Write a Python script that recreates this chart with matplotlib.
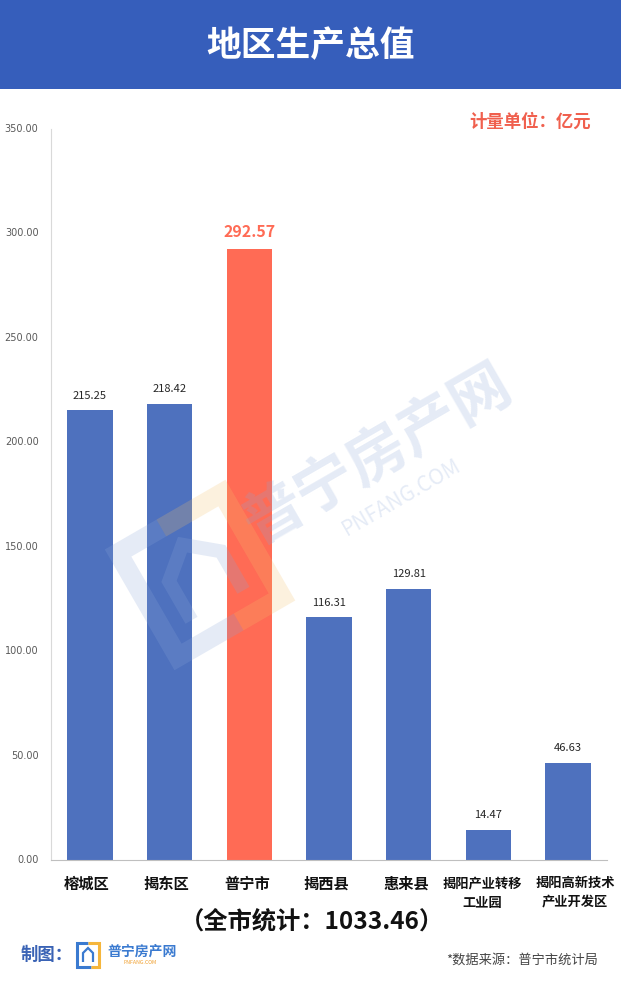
import numpy as np
import matplotlib.pyplot as plt
from matplotlib.patches import Rectangle
from matplotlib.lines import Line2D

plt.rcParams['font.family'] = ['Noto Sans CJK SC', 'DejaVu Sans']

# 数据
regions = ['榕城区', '揭东区', '普宁市', '揭西县', '惠来县', '揭阳产业转移\n工业园', '揭阳高新技术\n产业开发区']
gdp = [215.25, 218.42, 292.57, 116.31, 129.81, 14.47, 46.63]
highlight = '普宁市'
yticks = [0, 50, 100, 150, 200, 250, 300, 350]
total = 1033.46

blue = '#4e71be'
red = '#ff6b55'

W, H = 621, 983
fig = plt.figure(figsize=(W / 100, H / 100), dpi=100)
fig.patch.set_facecolor('white')


def px(x, y):
    # 像素坐标 -> 图形坐标
    return x / W, 1 - y / H


def shape(pts, cx, cy, ang, color, lw, alpha, z=1):
    a = np.deg2rad(ang)
    xs, ys = [], []
    for u, v in pts:
        xr = cx + u * np.cos(a) + v * np.sin(a)
        yr = cy - u * np.sin(a) + v * np.cos(a)
        fx, fy = px(xr, yr)
        xs.append(fx)
        ys.append(fy)
    fig.add_artist(Line2D(xs, ys, color=color, lw=lw, alpha=alpha, zorder=z,
                          solid_capstyle='butt', solid_joinstyle='miter'))


# 顶部标题栏
fig.patches.append(Rectangle((0, 1 - 89 / H), 1, 89 / H, transform=fig.transFigure,
                             facecolor='#365ebb', edgecolor='none', zorder=0))
fig.text(0.5, 1 - 46 / H, '地区生产总值', color='white', fontsize=25, fontweight='bold',
         ha='center', va='center')

# 水印
wm = '#8aa6d8'
fig.text(*px(378, 455), '普宁房产网', color=wm, alpha=0.22, fontsize=43,
         fontweight='bold', rotation=30, ha='center', va='center', zorder=1)
fig.text(*px(402, 497), 'PNFANG.COM', color=wm, alpha=0.22, fontsize=15,
         rotation=30, ha='center', va='center', zorder=1)
shape([(-10, -60), (-60, -60), (-60, 60), (10, 60)], 200, 575, 30, wm, 14, 0.22)
shape([(-10, -60), (60, -60), (60, 60), (10, 60)], 200, 575, 30, '#f5c06a', 14, 0.22)
shape([(-30, 35), (-30, -10), (0, -35), (30, -10), (30, 35)], 200, 575, 30, wm, 10, 0.22)

ax_h = 860 - 129
ax = fig.add_axes([51 / W, 1 - 860 / H, (607 - 51) / W, ax_h / H])
ax.patch.set_alpha(0)

x = np.arange(len(regions))
colors = [red if r == highlight else blue for r in regions]
ax.bar(x, gdp, width=0.57, color=colors, zorder=2)

for i, v in enumerate(gdp):
    if regions[i] == highlight:
        ax.text(i, v + 4.5, f'{v:.2f}', ha='center', va='bottom', fontsize=11.5,
                fontweight='bold', color=red)
    else:
        ax.text(i, v + 4.5, f'{v:.2f}', ha='center', va='bottom', fontsize=8, color='#262626')

ax.set_xlim(-0.49, len(regions) - 0.51)
ax.set_ylim(0, 350)
ax.set_yticks(yticks)
ax.set_yticklabels([f'{t:.2f}' for t in yticks], fontsize=7, color='#595959',
                   family=['DejaVu Sans'])
ax.tick_params(axis='y', length=0, pad=9)
for lbl in ax.get_yticklabels():
    lbl.set_verticalalignment('center')

# 类别标签（手动放置，便于微调）
ax.set_xticks(x)
ax.set_xticklabels([])
ax.tick_params(axis='x', length=0)
label_shift = [-0.04, -0.04, -0.03, -0.03, -0.03, -0.07, 0.09]
for i, r in enumerate(regions):
    fs = 9.5 if '\n' in r else 11
    ax.text(i + label_shift[i], -(876 - 860) / ax_h, r, transform=ax.get_xaxis_transform(),
            ha='center', va='top', fontsize=fs, fontweight='bold', color='#111111',
            linespacing=1.5)

for s in ['top', 'right']:
    ax.spines[s].set_visible(False)
ax.spines['left'].set_color('#d9d9d9')
ax.spines['bottom'].set_color('#bfbfbf')

# 单位
fig.text(*px(530, 122), '计量单位：亿元', color='#f0604e', fontsize=12.5,
         fontweight='bold', ha='center', va='center')

# 合计
fig.text(*px(312, 921), f'（全市统计：{total:.2f}）',
         fontsize=17.5, fontweight='bold', color='#111111', ha='center', va='center')

# 制图与来源
fig.text(*px(21, 955), '制图：', color='#3a63b5', fontsize=12.5, fontweight='bold',
         ha='left', va='center')
shape([(0, -12), (-11, -12), (-11, 12), (3, 12)], 88, 955, 0, '#3a7ad0', 2.2, 1)
shape([(0, -12), (11, -12), (11, 12), (3, 12)], 88, 955, 0, '#f5b63c', 2.2, 1)
shape([(-5, 7), (-5, -2), (0, -7), (5, -2), (5, 7)], 88, 955, 0, '#3a7ad0', 1.6, 1)
fig.text(*px(107, 952), '普宁房产网', color='#3a7ad0', fontsize=10, fontweight='bold',
         ha='left', va='center')
fig.text(*px(123, 963), 'PNFANG.COM', color='#f0a030', fontsize=3.8,
         ha='left', va='center')
fig.text(*px(598, 960), '*数据来源：普宁市统计局', color='#444444', fontsize=9.5,
         ha='right', va='center')

fig.savefig('out.png', dpi=100)
